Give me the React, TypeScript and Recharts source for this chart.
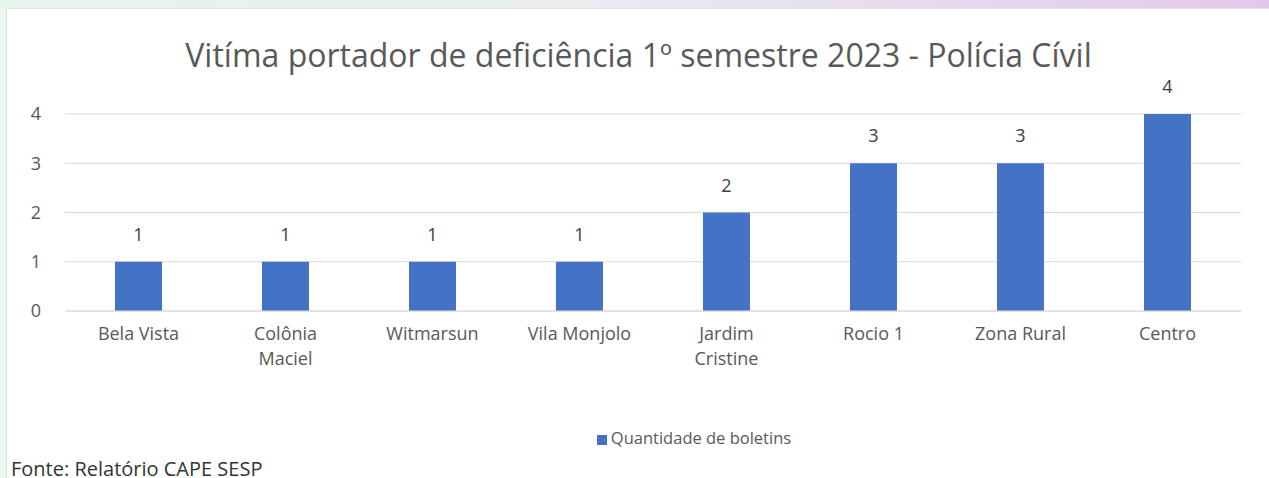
import React from 'react';
import { BarChart, Bar, XAxis, YAxis, CartesianGrid, Legend, LabelList } from 'recharts';

const bairros = [
  'Bela Vista',
  'Colônia Maciel',
  'Witmarsun',
  'Vila Monjolo',
  'Jardim Cristine',
  'Rocio 1',
  'Zona Rural',
  'Centro',
];
const boletins = [1, 1, 1, 1, 2, 3, 3, 4];
const yTicks = [0, 1, 2, 3, 4];

const chartData = bairros.map((nome, i) => ({ nome, boletins: boletins[i] }));

const FONT = '"Open Sans", "Noto Sans", sans-serif';
const GRAY = '#595959';

// long names go on two lines, like Excel wraps them
const CategoryTick = (props: any) => {
  const { x, y, payload } = props;
  const name: string = payload.value;
  const cut = name.lastIndexOf(' ');
  const lines = name.length > 12 && cut > 0 ? [name.slice(0, cut), name.slice(cut + 1)] : [name];
  return (
    <text x={x} y={y} textAnchor="middle" fontSize={18} fontFamily={FONT} fill={GRAY}>
      {lines.map((l, i) => (
        <tspan key={i} x={x} dy={i === 0 ? 15 : 25}>
          {l}
        </tspan>
      ))}
    </text>
  );
};

const App: React.FC = () => {
  return (
    <div
      style={{
        position: 'absolute',
        top: 0,
        left: 0,
        width: 1269,
        height: 478,
        overflow: 'hidden',
        background: 'linear-gradient(90deg, #e8f5ec 0%, #e9edf0 45%, #e3c8ec 100%)',
      }}
    >
      <div
        style={{
          position: 'absolute',
          left: 0,
          top: 8,
          width: 6,
          height: 470,
          background: '#eaf6ee',
        }}
      />
      <div
        style={{
          position: 'absolute',
          left: 6,
          top: 8,
          width: 1263,
          height: 470,
          background: '#fff',
          borderLeft: '1px solid #dcdcdc',
          borderTop: '1px solid #e4e4e4',
          boxSizing: 'border-box',
        }}
      >
        <div
          style={{
            position: 'absolute',
            left: 0,
            width: 1263,
            top: 28,
            textAlign: 'center',
            fontFamily: FONT,
            fontSize: 32,
            color: GRAY,
            lineHeight: '36px',
            whiteSpace: 'nowrap',
          }}
        >
          Vitíma portador de deficiência 1º semestre 2023 - Polícia Cívil
        </div>
        <BarChart
          width={1262}
          height={469}
          data={chartData}
          margin={{ top: 105, right: 28, left: 0, bottom: 29 }}
          barCategoryGap="34%"
        >
          <CartesianGrid vertical={false} stroke="#d9d9d9" strokeWidth={1.2} />
          <XAxis
            dataKey="nome"
            interval={0}
            height={115}
            tickLine={false}
            axisLine={{ stroke: '#d9d9d9', strokeWidth: 1.2 }}
            tick={<CategoryTick />}
            tickMargin={8}
          />
          <YAxis
            width={58}
            domain={[0, 4]}
            ticks={yTicks}
            axisLine={false}
            tickLine={false}
            tickMargin={18}
            tick={{ fontSize: 18, fill: GRAY, fontFamily: FONT }}
          />
          <Legend
            iconType="square"
            iconSize={10}
            wrapperStyle={{ fontFamily: FONT, fontSize: 16.5, paddingLeft: 150, boxSizing: 'border-box' }}
            formatter={(value: string) => <span style={{ color: GRAY }}>{value}</span>}
          />
          <Bar
            dataKey="boletins"
            name="Quantidade de boletins"
            fill="#4472c4"
            isAnimationActive={false}
          >
            <LabelList
              dataKey="boletins"
              position="top"
              offset={21}
              fill="#404040"
              fontSize={18}
              fontFamily={FONT}
            />
          </Bar>
        </BarChart>
      </div>
      <div
        style={{
          position: 'absolute',
          left: 11,
          top: 455,
          fontFamily: FONT,
          fontSize: 20,
          color: '#333',
          whiteSpace: 'nowrap',
          lineHeight: '27px',
        }}
      >
        Fonte: Relatório CAPE SESP
      </div>
    </div>
  );
};

export default App;
